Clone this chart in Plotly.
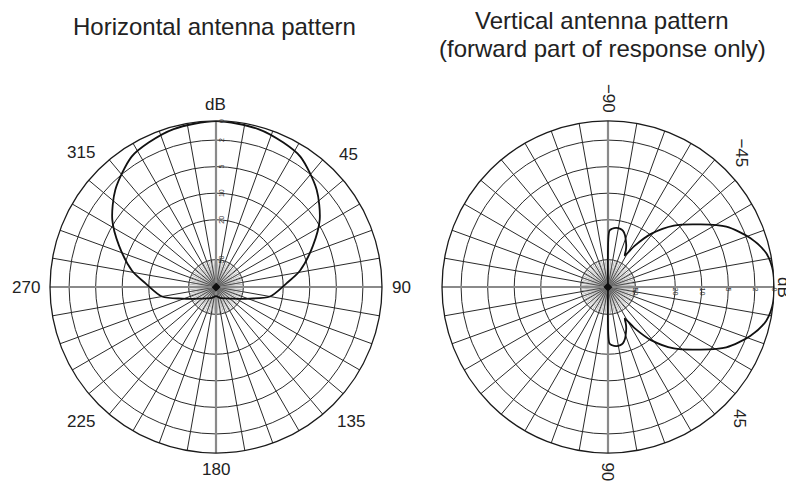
import numpy as np
import plotly.graph_objects as go

# ---------------- data ----------------
# Horizontal pattern: angle in degrees clockwise from the top, radius as fraction of outer ring
H_THETA = [0, 15, 25, 33, 46, 57, 67, 79, 87, 100, 109, 125, 141, 160, 180,
           200, 219, 235, 251, 260, 273, 281, 293, 303, 314, 327, 335, 345, 360]
H_R = [1.0, 0.985, 0.96, 0.935, 0.843, 0.745, 0.634, 0.515, 0.425, 0.33, 0.215, 0.123, 0.088, 0.07, 0.055,
       0.07, 0.088, 0.123, 0.215, 0.33, 0.425, 0.515, 0.634, 0.745, 0.843, 0.935, 0.96, 0.985, 1.0]

# Vertical pattern (forward part only): 0 = right, -90 = up, +90 = down
V_THETA = [-90, -88.5, -86, -82, -78, -75, -72, -69, -66, -64, -62, -57, -51, -43, -34, -27, -19, -12, -5, 0,
           5, 12, 19, 27, 34, 43, 51, 57, 62, 64, 66, 69, 72, 75, 78, 82, 86, 88.5, 90]
V_R = [0.0, 0.34, 0.352, 0.36, 0.358, 0.35, 0.33, 0.30, 0.27, 0.245, 0.215, 0.297, 0.412, 0.543, 0.674, 0.80, 0.906, 0.975, 1.0, 1.0,
       1.0, 0.975, 0.906, 0.80, 0.674, 0.543, 0.412, 0.297, 0.215, 0.245, 0.27, 0.30, 0.33, 0.35, 0.358, 0.36, 0.352, 0.34, 0.0]

RING_R = [0.165, 0.405, 0.565, 0.725, 0.885, 1.0]
RING_LABELS = ["50", "20", "10", "5", "2", "0"]

H_ANG_TICKS = [0, 45, 90, 135, 180, 225, 270, 315]
H_ANG_LABELS = ["dB", "45", "90", "135", "180", "225", "270", "315"]
V_ANG_TICKS = [-90, -45, 0, 45, 90]
V_ANG_LABELS = ["\u221290", "\u221245", "dB", "45", "90"]

TITLE_H = "Horizontal antenna pattern"
TITLE_V1 = "Vertical antenna pattern"
TITLE_V2 = "(forward part of response only)"

# ---------------- geometry (screen pixels; page body has an 8px margin) ----------------
OFF = 8
W, HGT = 794 - OFF, 484 - OFF
R = 166
CY = 287 - OFF
CX_L, CX_R = 216 - OFF, 608 - OFF
FONT = "Liberation Sans, Arial, Helvetica, sans-serif"


def dom(cx):
    return dict(x=[(cx - R) / W, (cx + R) / W], y=[(HGT - CY - R) / HGT, (HGT - CY + R) / HGT])


def P(px, py):
    return (px - OFF) / W, 1 - (py - OFF) / HGT


fig = go.Figure()

inner_r = RING_R[0]
for sub in ["polar", "polar2"]:
    th, rr = [], []
    for a in range(0, 360, 4):
        th += [a, a, None]
        rr += [0, inner_r, None]
    fig.add_trace(go.Scatterpolar(theta=th, r=rr, mode="lines", subplot=sub,
                                  line=dict(color="#777", width=0.5), hoverinfo="skip"))
    fig.add_trace(go.Scatterpolar(theta=[0, 0, 180, None, 90, 90, 270], r=[1, 0, 1, None, 1, 0, 1],
                                  mode="lines", subplot=sub, line=dict(color="#8a8a8a", width=2.2),
                                  hoverinfo="skip"))
    fig.add_trace(go.Scatterpolar(theta=[0, 90, 180, 270], r=[0.025, 0.025, 0.025, 0.025], mode="lines",
                                  fill="toself", fillcolor="#111", subplot=sub,
                                  line=dict(color="#111", width=1), hoverinfo="skip"))

fig.add_trace(go.Scatterpolar(theta=H_THETA, r=H_R, mode="lines", subplot="polar",
                              line=dict(color="#111", width=1.8, shape="spline", smoothing=0.8)))
fig.add_trace(go.Scatterpolar(theta=V_THETA, r=V_R, mode="lines", subplot="polar2",
                              line=dict(color="#111", width=1.8, shape="spline", smoothing=0.8)))


def axes(rotation, rangle, tangle):
    return dict(
        bgcolor="white",
        angularaxis=dict(rotation=rotation, direction="clockwise", tickmode="linear", tick0=0, dtick=10,
                         showticklabels=False, ticks="", gridcolor="#2a2a2a", gridwidth=1,
                         showline=True, linecolor="#1a1a1a", linewidth=1.3),
        radialaxis=dict(range=[0, 1], tickmode="array", tickvals=RING_R, ticktext=RING_LABELS,
                        showline=False, ticks="", gridcolor="#2a2a2a", gridwidth=1,
                        angle=rangle, tickangle=tangle,
                        tickfont=dict(size=7, color="#333", family=FONT)),
    )


fig.update_layout(
    width=W, height=HGT, margin=dict(l=0, r=0, t=0, b=0),
    paper_bgcolor="white", showlegend=False,
    polar=dict(domain=dom(CX_L), **axes(90, 90, 0)),
    polar2=dict(domain=dom(CX_R), **axes(0, 0, 90)),
)

ann = []
for a, t in zip(H_ANG_TICKS, H_ANG_LABELS):
    rad = np.deg2rad(a)
    w = 9.4 * len(t)
    h = 12
    off = R + 10 + 0.5 * (abs(np.sin(rad)) * w + abs(np.cos(rad)) * h)
    px = 216 + off * np.sin(rad)
    py = 287 - off * np.cos(rad)
    x, y = P(px, py)
    ann.append(dict(x=x, y=y, xref="paper", yref="paper", text=t, showarrow=False,
                    xanchor="center", yanchor="middle", font=dict(size=17, color="#222", family=FONT)))
for a, t in zip(V_ANG_TICKS, V_ANG_LABELS):
    rad = np.deg2rad(a)
    w = 9.4 * len(t)
    h = 12
    off = R + 9 + 0.5 * (abs(np.sin(rad)) * w + abs(np.cos(rad)) * h)
    off = min(off, 784 - 608) if a == 0 else off
    px = 608 + off * np.cos(rad)
    py = 287 + off * np.sin(rad)
    x, y = P(px, py)
    ann.append(dict(x=x, y=y, xref="paper", yref="paper", text=t, showarrow=False,
                    textangle=90, xanchor="center", yanchor="middle",
                    font=dict(size=17, color="#222", family=FONT)))
for (px, py, t) in [(214, 27, TITLE_H), (602, 20, TITLE_V1), (602, 48, TITLE_V2)]:
    x, y = P(px, py)
    ann.append(dict(x=x, y=y, xref="paper", yref="paper", text=t, showarrow=False,
                    xanchor="center", yanchor="middle", font=dict(size=24, color="#222", family=FONT)))
fig.update_layout(annotations=ann)

fig.write_html("out.html")
